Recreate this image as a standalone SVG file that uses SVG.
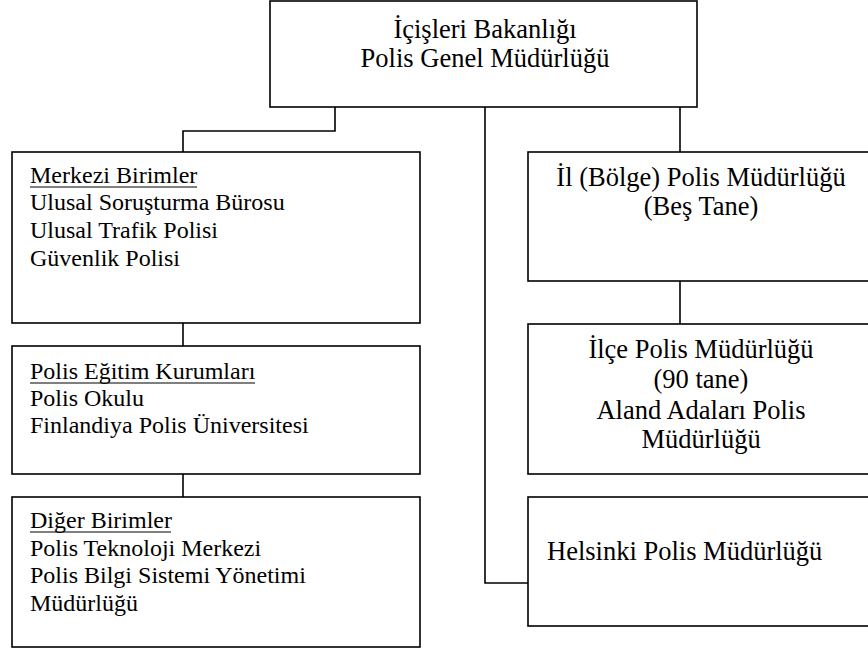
<svg xmlns="http://www.w3.org/2000/svg" width="868" height="652" viewBox="0 0 868 652">
<style>
.box{fill:#fff;stroke:#000;stroke-width:1.6}
.ln{fill:none;stroke:#000;stroke-width:1.6}
text{font-family:"Liberation Serif","Times New Roman",serif;fill:#000}
.l{font-size:24px}
.r{font-size:26.5px;text-anchor:middle}
.t{font-size:26.5px;text-anchor:middle}
.u{stroke:#000;stroke-width:1.2}
</style>
<rect width="868" height="652" fill="#fff"/>
<g id="connectors">
<path class="ln" d="M335,107 V131 H183 V152"/>
<path class="ln" d="M680,107 V152"/>
<path class="ln" d="M485,107 V583 H528"/>
<path class="ln" d="M183,323 V346"/>
<path class="ln" d="M183,474 V497"/>
<path class="ln" d="M680,281 V324"/>
</g>
<g id="n-top">
<rect class="box" x="270" y="1" width="427" height="106"/>
<text class="t" x="485" y="38">İçişleri Bakanlığı</text>
<text class="t" x="485" y="67">Polis Genel Müdürlüğü</text>
</g>
<g id="n-merkezi">
<rect class="box" x="12" y="152" width="408" height="171"/>
<text class="l" x="30" y="183">Merkezi Birimler</text>
<text class="l" x="30" y="210">Ulusal Soruşturma Bürosu</text>
<text class="l" x="30" y="238">Ulusal Trafik Polisi</text>
<text class="l" x="30" y="266">Güvenlik Polisi</text>
<line class="u" x1="30" y1="187" x2="197" y2="187"/>
</g>
<g id="n-egitim">
<rect class="box" x="12" y="346" width="408" height="128"/>
<text class="l" x="30" y="379">Polis Eğitim Kurumları</text>
<text class="l" x="30" y="406">Polis Okulu</text>
<text class="l" x="30" y="433">Finlandiya Polis Üniversitesi</text>
<line class="u" x1="30" y1="383" x2="255" y2="383"/>
</g>
<g id="n-diger">
<rect class="box" x="12" y="497" width="408" height="150"/>
<text class="l" x="30" y="528">Diğer Birimler</text>
<text class="l" x="30" y="556">Polis Teknoloji Merkezi</text>
<text class="l" x="30" y="583">Polis Bilgi Sistemi Yönetimi</text>
<text class="l" x="30" y="611">Müdürlüğü</text>
<line class="u" x1="30" y1="532" x2="171" y2="532"/>
</g>
<g id="n-il">
<rect class="box" x="528" y="152" width="380" height="129"/>
<text class="r" x="701" y="186">İl (Bölge) Polis Müdürlüğü</text>
<text class="r" x="701" y="215">(Beş Tane)</text>
</g>
<g id="n-ilce">
<rect class="box" x="528" y="324" width="380" height="150"/>
<text class="r" x="701" y="358">İlçe Polis Müdürlüğü</text>
<text class="r" x="701" y="388">(90 tane)</text>
<text class="r" x="701" y="419">Aland Adaları Polis</text>
<text class="r" x="701" y="448">Müdürlüğü</text>
</g>
<g id="n-helsinki">
<rect class="box" x="528" y="497" width="380" height="129"/>
<text x="547" y="560" style="font-size:26.5px">Helsinki Polis Müdürlüğü</text>
</g>
</svg>
